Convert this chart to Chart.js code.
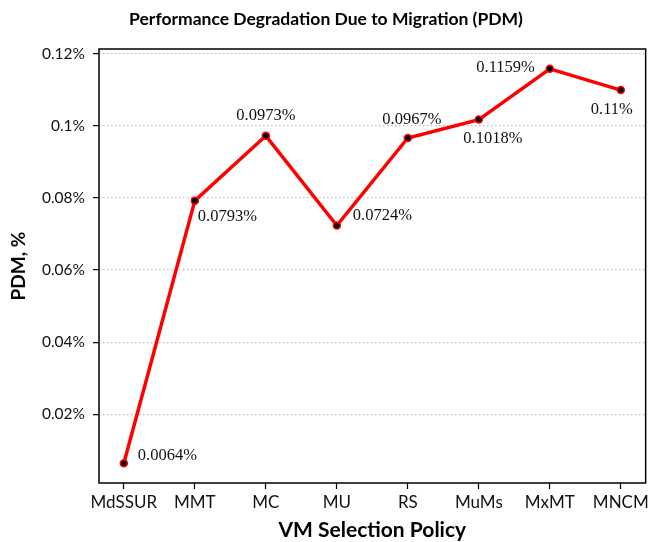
<!DOCTYPE html>
<html>
<head>
<meta charset="utf-8">
<script src="https://cdn.jsdelivr.net/npm/chart.js@4"></script>
<style>
  body { margin: 0; background: #fff; }
  #wrap { width: 652px; height: 542px; }
</style>
</head>
<body>
<div id="wrap"><canvas id="pdm-chart" width="652" height="542"></canvas></div>
<script>
// Data
const policies = ['MdSSUR', 'MMT', 'MC', 'MU', 'RS', 'MuMs', 'MxMT', 'MNCM'];
const pdmValues = [0.0064, 0.0793, 0.0973, 0.0724, 0.0967, 0.1018, 0.1159, 0.11];
const pdmLabels = ['0.0064%', '0.0793%', '0.0973%', '0.0724%', '0.0967%', '0.1018%', '0.1159%', '0.11%'];
const yTickValues = [0.02, 0.04, 0.06, 0.08, 0.1, 0.12];

// label placement relative to each point: [dx, dy, align]
const labelOffsets = [
    [14, -8, 'left'],
    [3, 16, 'left'],
    [0, -20, 'center'],
    [16, -10, 'left'],
    [4, -18, 'center'],
    [14, 19, 'center'],
    [-15, -1, 'right'],
    [-9, 20, 'center']
];

const sansFont = 'Lato, "Open Sans", sans-serif';
const serifFont = '"Liberation Serif", serif';

// frame, titles and value labels
const decorPlugin = {
    id: 'decor',
    afterDatasetsDraw(chart) {
        const ctx = chart.ctx;
        const area = chart.chartArea;
        ctx.save();

        // value labels
        const meta = chart.getDatasetMeta(0);
        ctx.fillStyle = '#111';
        ctx.font = '16.5px ' + serifFont;
        ctx.textBaseline = 'middle';
        meta.data.forEach((pt, i) => {
            const [dx, dy, align] = labelOffsets[i];
            ctx.textAlign = align;
            ctx.fillText(pdmLabels[i], pt.x + dx, pt.y + dy);
        });

        // plot frame
        ctx.strokeStyle = '#000';
        ctx.lineWidth = 1.5;
        ctx.strokeRect(area.left, area.top, area.right - area.left, area.bottom - area.top);

        // titles
        ctx.fillStyle = '#000';
        ctx.textAlign = 'center';
        ctx.font = 'bold 17.5px ' + sansFont;
        ctx.fillText('Performance Degradation Due to Migration (PDM)', chart.width / 2, 19);

        ctx.font = 'bold 21px ' + sansFont;
        ctx.fillText('VM Selection Policy', (area.left + area.right) / 2, 530);

        ctx.translate(19, (area.top + area.bottom) / 2);
        ctx.rotate(-Math.PI / 2);
        ctx.font = 'bold 19px ' + sansFont;
        ctx.fillText('PDM, %', 0, 0);
        ctx.restore();
    }
};

const ctx = document.getElementById('pdm-chart').getContext('2d');

new Chart(ctx, {
    type: 'line',
    data: {
        datasets: [{
            label: 'PDM',
            data: pdmValues.map((v, i) => ({ x: i, y: v })),
            borderColor: '#ff0000',
            borderWidth: 3.5,
            tension: 0,
            pointRadius: 3.5,
            pointBackgroundColor: '#000',
            pointBorderColor: '#ff0000',
            pointBorderWidth: 1.5
        }]
    },
    options: {
        responsive: false,
        animation: false,
        layout: {
            padding: { top: 49, right: 2, left: 0, bottom: 0 }
        },
        plugins: {
            legend: { display: false },
            tooltip: { enabled: false }
        },
        scales: {
            x: {
                type: 'linear',
                min: -0.35,
                max: 7.35,
                afterBuildTicks: (scale) => {
                    scale.ticks = policies.map((_, i) => ({ value: i }));
                },
                afterFit: (scale) => { scale.height = 59; },
                grid: {
                    drawOnChartArea: false,
                    drawTicks: true,
                    tickLength: 6,
                    tickColor: '#000',
                    tickWidth: 1.2
                },
                border: { display: false },
                ticks: {
                    autoSkip: false,
                    maxRotation: 0,
                    padding: 3,
                    color: '#111',
                    font: { family: sansFont, size: 17 },
                    callback: (v) => policies[v]
                }
            },
            y: {
                min: 0.0009,
                max: 0.1214,
                afterBuildTicks: (scale) => {
                    scale.ticks = yTickValues.map(v => ({ value: v }));
                },
                afterFit: (scale) => { scale.width = 99; },
                grid: {
                    color: '#bdbdbd',
                    lineWidth: 1.3,
                    tickLength: 6,
                    tickColor: '#000',
                    tickWidth: 1.2,
                    tickBorderDash: []
                },
                border: { display: false, dash: [1.5, 2.5] },
                ticks: {
                    padding: 8,
                    color: '#111',
                    font: { family: sansFont, size: 15.5 },
                    callback: (v) => (+v.toFixed(4)) + '%'
                }
            }
        }
    },
    plugins: [decorPlugin]
});
</script>
</body>
</html>
